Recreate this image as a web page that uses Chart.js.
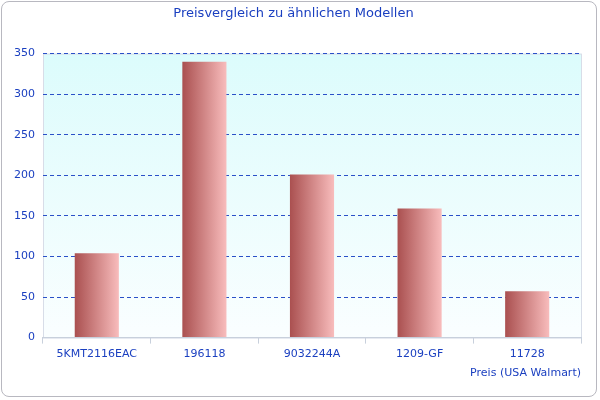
<!DOCTYPE html>
<html>
<head>
<script src="https://cdn.jsdelivr.net/npm/chart.js@4"></script>
<style>
body { margin: 0; background: #fff; }
#wrap { position: absolute; left: 1px; top: 1px; width: 596px; height: 396px; border: 1px solid #b8b8c0; border-radius: 8px; box-sizing: border-box; }
</style>
</head>
<body>
<div id="wrap"><canvas id="c" width="596" height="396"></canvas></div>
<script>
const labels = ['5KMT2116EAC', '196118', '9032244A', '1209-GF', '11728'];
const prices = [104, 340, 201, 159, 57];
const yTicks = [0, 50, 100, 150, 200, 250, 300, 350];

const plotBg = {
    id: 'plotBg',
    beforeDraw(chart) {
        const { ctx, chartArea: a } = chart;
        const g = ctx.createLinearGradient(0, a.top, 0, a.bottom);
        g.addColorStop(0, '#dcfcfc');
        g.addColorStop(1, '#fafeff');
        ctx.save();
        ctx.fillStyle = g;
        ctx.fillRect(a.left, a.top, a.right - a.left, a.bottom - a.top);
        ctx.strokeStyle = '#d8dde8';
        ctx.strokeRect(a.left + 0.5, a.top + 0.5, a.right - a.left, a.bottom - a.top);
        ctx.restore();
    }
};

function barColor(context) {
    const chart = context.chart;
    if (!chart.chartArea) return '#d08080';
    const x = chart.scales.x.getPixelForValue(context.dataIndex);
    const g = chart.ctx.createLinearGradient(x - 22, 0, x + 22, 0);
    g.addColorStop(0, '#aa5050');
    g.addColorStop(1, '#f8bcbc');
    return g;
}

new Chart(document.getElementById('c'), {
    type: 'bar',
    data: {
        labels: labels,
        datasets: [{ data: prices, backgroundColor: barColor, barPercentage: 0.41, categoryPercentage: 1 }]
    },
    plugins: [plotBg],
    options: {
        responsive: false,
        animation: false,
        layout: { padding: { left: 4, right: 17, top: 0, bottom: 14 } },
        plugins: {
            legend: { display: false },
            tooltip: { enabled: false },
            title: {
                display: true,
                text: 'Preisvergleich zu ähnlichen Modellen',
                color: '#1a3fc0',
                font: { family: 'DejaVu Sans', size: 13, weight: 'normal' },
                padding: { top: 4, bottom: 32 }
            }
        },
        scales: {
            x: {
                grid: { display: true, drawOnChartArea: false, offset: true, tickLength: 6, color: '#c8d0dc' },
                border: { color: '#c8d0dc' },
                ticks: { color: '#1a3fc0', font: { family: 'DejaVu Sans', size: 11 }, padding: 4 },
                title: {
                    display: true, text: 'Preis (USA Walmart)', align: 'end',
                    color: '#1a3fc0', font: { family: 'DejaVu Sans', size: 11 }, padding: { top: 2 }
                }
            },
            y: {
                min: 0, max: 350,
                afterBuildTicks: s => { s.ticks = yTicks.map(v => ({ value: v })); },
                grid: { color: '#2a50c8', tickLength: 6, drawTicks: false },
                border: { display: false, dash: [4, 3] },
                ticks: { color: '#1a3fc0', font: { family: 'DejaVu Sans', size: 11 }, padding: 8 }
            }
        }
    }
});
</script>
</body>
</html>
